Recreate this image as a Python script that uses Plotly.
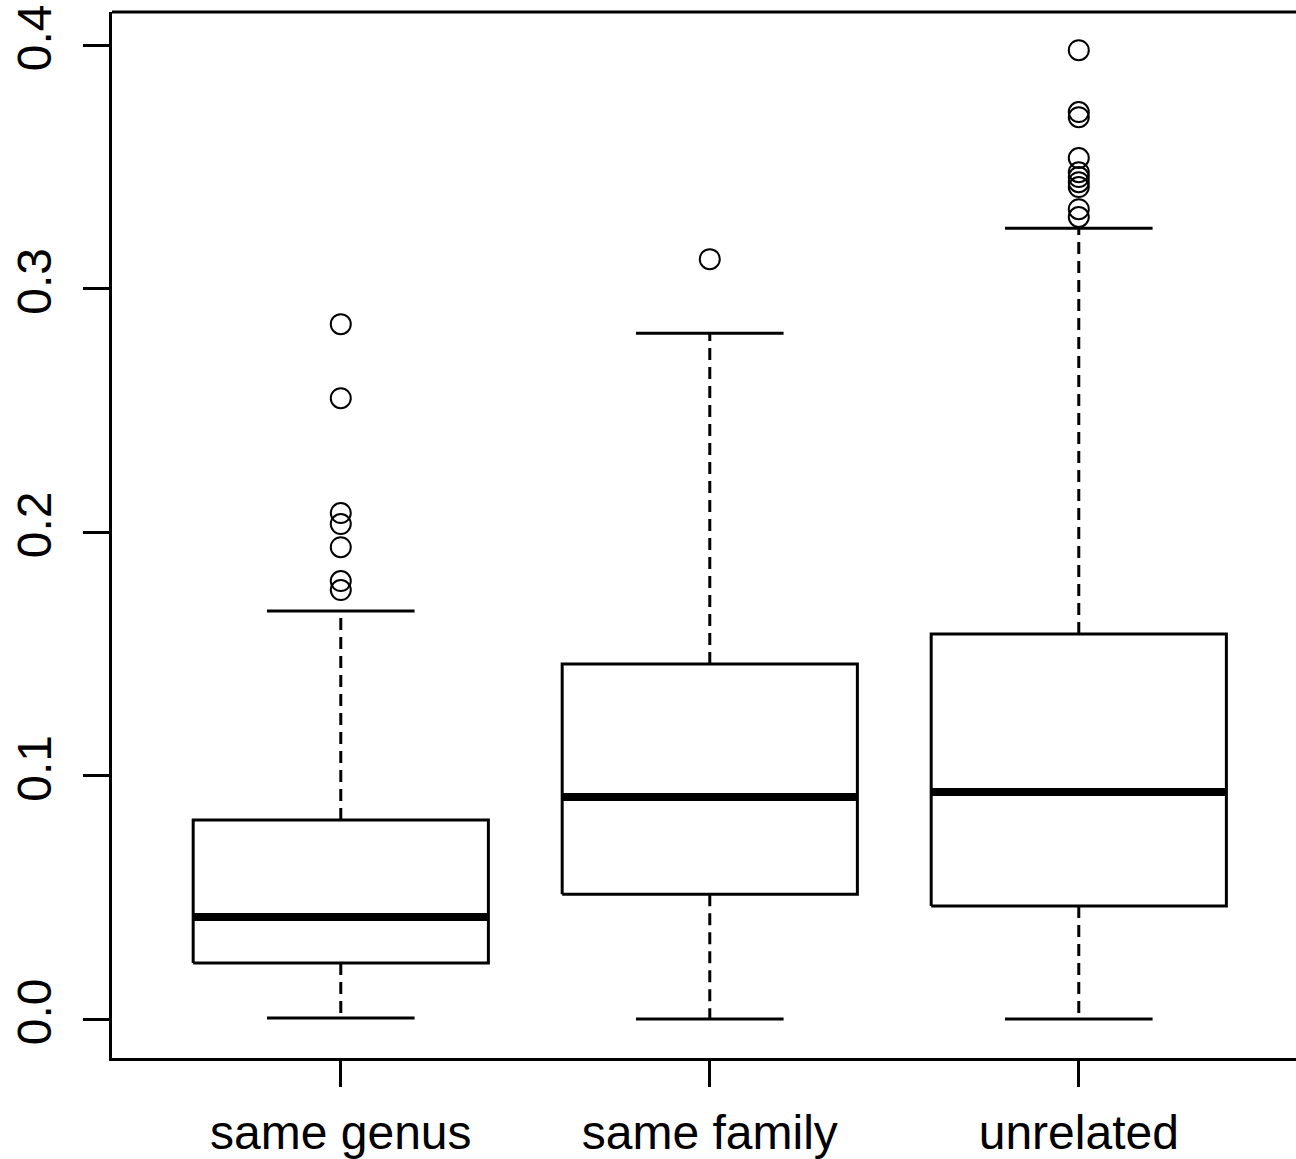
import plotly.graph_objects as go

# ---- data ----
categories = ["same genus", "same family", "unrelated"]
whisker_low = [0.0004, 0.0, 0.0]
q1 = [0.0230, 0.0513, 0.0464]
median = [0.0419, 0.0912, 0.0932]
q3 = [0.0817, 0.1458, 0.1581]
whisker_high = [0.1676, 0.2817, 0.3248]
outliers_genus = [0.2854, 0.2550, 0.2078, 0.2033, 0.1938, 0.1799, 0.1762]
outliers_family = [0.3121]
outliers_unrelated = [0.3979, 0.3725, 0.3704, 0.3536, 0.3478, 0.3458,
                      0.3437, 0.3417, 0.3326, 0.3294]
outliers = [outliers_genus, outliers_family, outliers_unrelated]
y_ticks = [0.0, 0.1, 0.2, 0.3, 0.4]
y_ticklabels = ["0.0", "0.1", "0.2", "0.3", "0.4"]

# ---- styling ----
FONT = "Liberation Sans, Arial, sans-serif"
FS = 48
BOX_HALF = 0.4
STAPLE_HALF = 0.2
LW = 3

fig = go.Figure()
for i, cat in enumerate(categories):
    xc = i + 1
    # whiskers (dashed)
    fig.add_trace(go.Scatter(
        x=[xc, xc, None, xc, xc],
        y=[q3[i], whisker_high[i], None, q1[i], whisker_low[i]],
        mode="lines", line=dict(color="black", width=LW, dash="12px,7px"),
        hoverinfo="skip", showlegend=False))
    # staples
    fig.add_trace(go.Scatter(
        x=[xc - STAPLE_HALF, xc + STAPLE_HALF, None, xc - STAPLE_HALF, xc + STAPLE_HALF],
        y=[whisker_high[i], whisker_high[i], None, whisker_low[i], whisker_low[i]],
        mode="lines", line=dict(color="black", width=LW),
        hoverinfo="skip", showlegend=False))
    # box
    fig.add_trace(go.Scatter(
        x=[xc - BOX_HALF, xc + BOX_HALF, xc + BOX_HALF, xc - BOX_HALF, xc - BOX_HALF],
        y=[q1[i], q1[i], q3[i], q3[i], q1[i]],
        mode="lines", line=dict(color="black", width=LW),
        fill="toself", fillcolor="white",
        name=cat, showlegend=False))
    # median
    fig.add_trace(go.Scatter(
        x=[xc - BOX_HALF, xc + BOX_HALF],
        y=[median[i], median[i]],
        mode="lines", line=dict(color="black", width=8),
        hoverinfo="skip", showlegend=False))
    # outliers
    fig.add_trace(go.Scatter(
        x=[xc] * len(outliers[i]), y=outliers[i],
        mode="markers",
        marker=dict(symbol="circle-open", size=20, color="black",
                    line=dict(width=2, color="black")),
        showlegend=False))

W, H = 1296, 1159
ML, MT, MB = 112, 12, 101
px_per_unit = 369
fig.update_layout(
    width=W, height=H,
    margin=dict(l=ML, r=0, t=MT, b=MB),
    paper_bgcolor="white", plot_bgcolor="white",
    font=dict(family=FONT, size=FS, color="black"),
    showlegend=False,
    xaxis=dict(
        range=[0.38, 0.38 + (W - ML) / px_per_unit],
        tickmode="array", tickvals=[1, 2, 3], ticktext=categories,
        ticks="outside", ticklen=26, tickwidth=LW, tickcolor="black",
        showline=True, linewidth=LW, linecolor="black",
        showgrid=False, zeroline=False, automargin=False,
        tickfont=dict(family=FONT, size=FS, color="black"),
        ticklabelstandoff=4, ticklabeloverflow="allow",
    ),
    yaxis=dict(
        range=[-0.016, 0.4136],
        tickmode="array", tickvals=y_ticks, ticktext=y_ticklabels,
        tickangle=-90,
        ticks="outside", ticklen=26, tickwidth=LW, tickcolor="black",
        showline=True, linewidth=LW, linecolor="black",
        showgrid=False, zeroline=False, automargin=False,
        tickfont=dict(family=FONT, size=FS, color="black"),
        ticklabelstandoff=13, ticklabeloverflow="allow",
    ),
    shapes=[dict(type="line", xref="paper", yref="paper",
                 x0=0, x1=1, y0=1, y1=1,
                 line=dict(color="black", width=LW))],
)

fig.write_html(
    "out.html",
    config={"displayModeBar": False},
    post_script="document.body.style.margin='0';document.body.style.overflow='hidden';",
)
